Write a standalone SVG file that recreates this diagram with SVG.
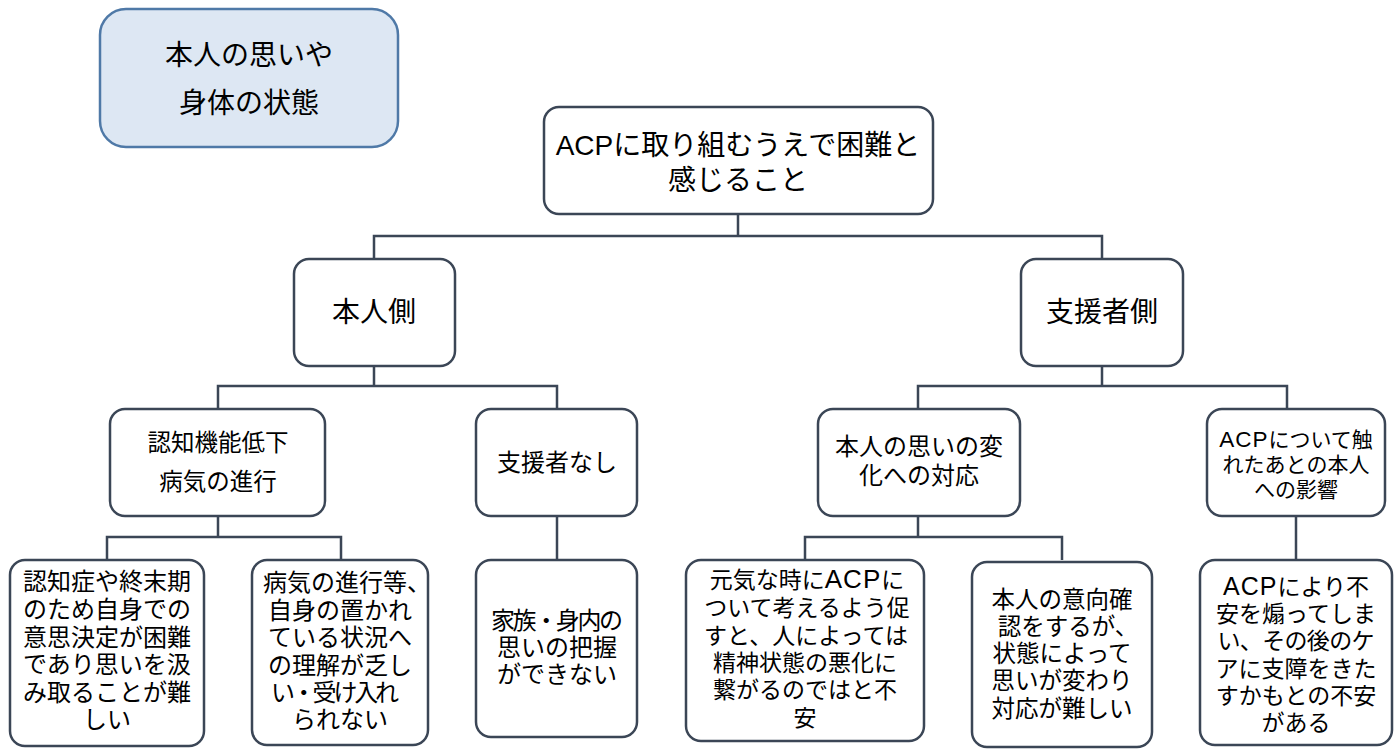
<svg xmlns="http://www.w3.org/2000/svg" width="1400" height="749" viewBox="0 0 1400 749">
<style>
.box{fill:#ffffff;stroke:#3b4656;stroke-width:2.5}
.blue{fill:#dde7f3;stroke:#4f79a7;stroke-width:2.5}
.conn{fill:none;stroke:#3b4656;stroke-width:2.5}
text{font-family:"Liberation Sans","Noto Sans CJK JP",sans-serif;fill:#000;text-anchor:middle}
.f28{font-size:28px}.f24{font-size:24px}.f235{font-size:23.5px}.f23{font-size:23px}.f21{font-size:21px}
</style>
<rect width="1400" height="749" fill="#ffffff"/>
<g id="connectors">
<path class="conn" d="M738 214V236M374 259V236H1102V259"/>
<path class="conn" d="M374 366V386M218 409V386H557V409"/>
<path class="conn" d="M1102 366V386M918 409V386H1287V409"/>
<path class="conn" d="M218 516V537M107 560V537H341V560"/>
<path class="conn" d="M557 516V560"/>
<path class="conn" d="M918 516V537M805 560V537H1062V560"/>
<path class="conn" d="M1296 516V560"/>
</g>
<g id="legend">
<rect class="blue" x="100" y="9" width="298" height="138" rx="26"/>
<text class="f28" x="249" y="65">本人の思いや</text>
<text class="f28" x="249" y="113">身体の状態</text>
</g>
<g id="root">
<rect class="box" x="544" y="107" width="389" height="107" rx="15"/>
<text class="f28" x="738" y="155">ACPに取り組むうえで困難と</text>
<text class="f28" x="738" y="190">感じること</text>
</g>
<g id="honnin">
<rect class="box" x="294" y="259" width="161" height="107" rx="15"/>
<text class="f28" x="374" y="322">本人側</text>
</g>
<g id="shiensha">
<rect class="box" x="1021" y="259" width="162" height="107" rx="15"/>
<text class="f28" x="1102" y="322">支援者側</text>
</g>
<g id="ninchi">
<rect class="box" x="110" y="409" width="215" height="107" rx="15"/>
<text class="f235" x="218" y="451">認知機能低下</text>
<text class="f235" x="218" y="490">病気の進行</text>
</g>
<g id="nashi">
<rect class="box" x="476" y="409" width="161" height="107" rx="15"/>
<text class="f24" x="557" y="471">支援者なし</text>
</g>
<g id="henka">
<rect class="box" x="818" y="409" width="202" height="107" rx="15"/>
<text class="f24" x="919" y="455">本人の思いの変</text>
<text class="f24" x="919" y="484">化への対応</text>
</g>
<g id="eikyo">
<rect class="box" x="1207" y="409" width="178" height="107" rx="15"/>
<text class="f21" x="1296" y="447"><tspan font-size="22.5" letter-spacing="1">ACP</tspan>について触</text>
<text class="f21" x="1296" y="472">れたあとの本人</text>
<text class="f21" x="1296" y="497">への影響</text>
</g>
<g id="leaf-a">
<rect class="box" x="10" y="560" width="194" height="186" rx="15"/>
<text class="f24" x="107" y="590">認知症や終末期</text>
<text class="f24" x="107" y="618">のため自身での</text>
<text class="f24" x="107" y="646">意思決定が困難</text>
<text class="f24" x="107" y="673">であり思いを汲</text>
<text class="f24" x="107" y="701">み取ることが難</text>
<text class="f24" x="107" y="728">しい</text>
</g>
<g id="leaf-b">
<rect class="box" x="252" y="560" width="176" height="185" rx="15"/>
<text class="f24" x="347" y="591">病気の進行等、</text>
<text class="f24" x="340" y="619">自身の置かれ</text>
<text class="f24" x="340" y="646">ている状況へ</text>
<text class="f24" x="340" y="674">の理解が乏し</text>
<text class="f24" x="335" y="701" textLength="128" lengthAdjust="spacing">い・受け入れ</text>
<text class="f24" x="340" y="728">られない</text>
</g>
<g id="leaf-c">
<rect class="box" x="476" y="560" width="161" height="177" rx="15"/>
<text class="f24" x="557" y="629" textLength="132" lengthAdjust="spacing">家族・身内の</text>
<text class="f24" x="557" y="656">思いの把握</text>
<text class="f24" x="557" y="683">ができない</text>
</g>
<g id="leaf-d">
<rect class="box" x="686" y="560" width="238" height="181" rx="15"/>
<text class="f23" x="807" y="588">元気な時に<tspan font-size="26" letter-spacing="1">ACP</tspan>に</text>
<text class="f23" x="807" y="616">ついて考えるよう促</text>
<text class="f23" x="806" y="644" textLength="204" lengthAdjust="spacing">すと、人によっては</text>
<text class="f23" x="805" y="671">精神状態の悪化に</text>
<text class="f23" x="805" y="698">繋がるのではと不</text>
<text class="f23" x="805" y="726">安</text>
</g>
<g id="leaf-e">
<rect class="box" x="972" y="562" width="180" height="185" rx="15"/>
<text class="f235" x="1062" y="608">本人の意向確</text>
<text class="f235" x="1068" y="635">認をするが、</text>
<text class="f235" x="1062" y="662">状態によって</text>
<text class="f235" x="1062" y="689">思いが変わり</text>
<text class="f235" x="1062" y="717">対応が難しい</text>
</g>
<g id="leaf-f">
<rect class="box" x="1200" y="560" width="192" height="185" rx="15"/>
<text class="f23" x="1296" y="595"><tspan font-size="25" letter-spacing="1">ACP</tspan>により不</text>
<text class="f23" x="1296" y="622">安を煽ってしま</text>
<text class="f23" x="1296" y="649" textLength="157" lengthAdjust="spacing">い、その後のケ</text>
<text class="f23" x="1296" y="677">アに支障をきた</text>
<text class="f23" x="1296" y="704">すかもとの不安</text>
<text class="f23" x="1296" y="731">がある</text>
</g>
</svg>
